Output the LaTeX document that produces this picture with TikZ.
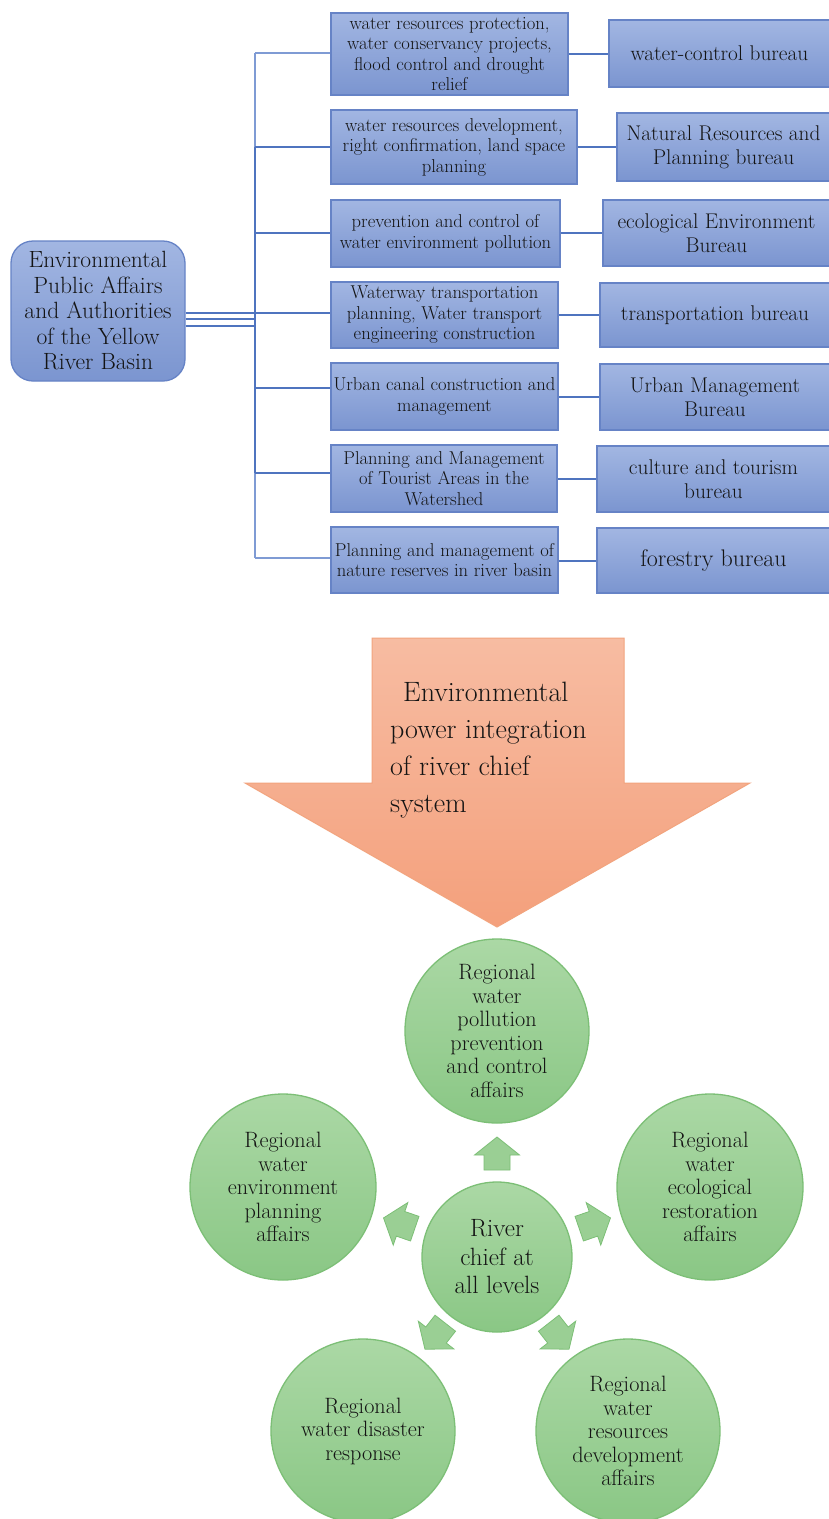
\documentclass[tikz,border=0pt]{standalone}
\usepackage{fontspec}
\usetikzlibrary{calc}
\definecolor{boxtop}{HTML}{A2B6E2}
\definecolor{boxbot}{HTML}{7B95D0}
\definecolor{boxline}{HTML}{6683C6}
\definecolor{conn}{HTML}{4F74BF}
\definecolor{connlt}{HTML}{7F9BD4}
\definecolor{ortop}{HTML}{F7BCA2}
\definecolor{orbot}{HTML}{F4A07C}
\definecolor{orline}{HTML}{F2A47E}
\definecolor{grtop}{HTML}{ABD8A5}
\definecolor{grbot}{HTML}{8AC785}
\definecolor{grline}{HTML}{7CBF76}
\definecolor{grarrow}{HTML}{9ACF94}
\definecolor{txt}{HTML}{141414}
\newcommand{\heavy}{\addfontfeatures{FakeBold=1.2}}
\tikzset{
  bluebox/.style={draw=boxline, line width=1.3pt, top color=boxtop, bottom color=boxbot,
    inner sep=0pt, align=center, text=txt},
  midbox/.style={bluebox, font=\heavy\fontsize{18.6}{20.5}\selectfont},
  rightbox/.style={bluebox, font=\heavy\fontsize{21.3}{24}\selectfont},
  leftbox/.style={bluebox, rounded corners=22pt, font=\heavy\fontsize{23.5}{25.5}\selectfont},
  link/.style={draw=conn, line width=2pt},
  linklt/.style={draw=connlt, line width=2pt},
  gcircle/.style={circle, draw=grline, line width=1.3pt, top color=grtop, bottom color=grbot,
    inner sep=0pt, align=center, text=txt, font=\heavy\fontsize{22.2}{23.5}\selectfont},
  sarrow/.pic={\path[draw=grline, line width=0.8pt, fill=grarrow, line join=miter]
    (-16,-13) -- (-1,-13) -- (-1,-22.5) -- (17,0) -- (-1,22.5) -- (-1,13) -- (-16,13) -- cycle;},
}
\begin{document}
\begin{tikzpicture}[x=1pt,y=1pt]
\useasboundingbox (0,0) rectangle (828,-1519);
\fill[white] (0,0) rectangle (828,-1519);

% ---------- left node ----------
\node[leftbox, minimum width=174pt, minimum height=140pt] (L) at (98,-311)
  {Environmental\\Public Affairs\\and Authorities\\of the Yellow\\River Basin};

% ---------- middle boxes ----------
\node[midbox, minimum width=237pt, minimum height=82pt] (m1) at (449.5,-54)
  {water resources protection,\\water conservancy projects,\\flood control and drought\\relief};
\node[midbox, minimum width=246pt, minimum height=74pt] (m2) at (454,-147)
  {water resources development,\\right confirmation, land space\\planning};
\node[midbox, minimum width=229pt, minimum height=67pt] (m3) at (445.5,-233.5)
  {prevention and control of\\water environment pollution};
\node[midbox, minimum width=227pt, minimum height=66pt] (m4) at (444.5,-315)
  {Waterway transportation\\planning, Water transport\\engineering construction};
\node[midbox, minimum width=227pt, minimum height=67pt] (m5) at (444.5,-396.5)
  {Urban canal construction and\\management};
\node[midbox, minimum width=226pt, minimum height=67pt] (m6) at (444,-478.5)
  {Planning and Management\\of Tourist Areas in the\\Watershed};
\node[midbox, minimum width=227pt, minimum height=66pt] (m7) at (444.5,-560)
  {Planning and management of\\nature reserves in river basin};

% ---------- right boxes ----------
\node[rightbox, minimum width=221pt, minimum height=67pt] (r1) at (719.5,-53.5)
  {water-control bureau};
\node[rightbox, minimum width=213pt, minimum height=68pt] (r2) at (723.5,-147)
  {Natural Resources and\\Planning bureau};
\node[rightbox, minimum width=227pt, minimum height=66pt] (r3) at (716.5,-233)
  {ecological Environment\\Bureau};
\node[rightbox, minimum width=230pt, minimum height=64pt] (r4) at (715,-315)
  {transportation bureau};
\node[rightbox, minimum width=230pt, minimum height=66pt] (r5) at (715,-397)
  {Urban Management\\Bureau};
\node[rightbox, minimum width=233pt, minimum height=66pt] (r6) at (713.5,-479)
  {culture and tourism\\bureau};
\node[rightbox, minimum width=233pt, minimum height=65pt, font=\heavy\fontsize{24}{26}\selectfont] (r7) at (713.5,-560.5)
  {forestry bureau};

% ---------- connectors ----------
\coordinate (t1) at (255,-53);
\coordinate (t2) at (255,-147);
\coordinate (t3) at (255,-233);
\coordinate (t4) at (255,-313);
\coordinate (t5) at (255,-388);
\coordinate (t6) at (255,-473);
\coordinate (t7) at (255,-558);
\coordinate (j1) at (255,-312.5);
\coordinate (j2) at (255,-319);
\coordinate (j3) at (255,-325.5);

\path[linklt] (t1) -- (t2);
\path[link] (t2) -- (t6);
\path[linklt] (t6) -- (t7);
\path[link] (j1 -| L.east) -- (j1);
\path[link] (j2 -| L.east) -- (j2);
\path[link] (j3 -| L.east) -- (j3);
\path[linklt] (t1) -- (t1 -| m1.west);
\path[link] (t2) -- (t2 -| m2.west);
\path[link] (t3) -- (t3 -| m3.west);
\path[link] (t4) -- (t4 -| m4.west);
\path[link] (t5) -- (t5 -| m5.west);
\path[link] (t6) -- (t6 -| m6.west);
\path[linklt] (t7) -- (t7 -| m7.west);

\path[link] (m1.east |- r1.west) -- (r1.west);
\path[link] (m2.east |- r2.west) -- (r2.west);
\path[link] (m3.east |- r3.west) -- (r3.west);
\path[link] (m4.east |- r4.west) -- (r4.west);
\path[link] (m5.east |- r5.west) -- (r5.west);
\path[link] (m6.east |- r6.west) -- (r6.west);
\path[link] (m7.east |- r7.west) -- (r7.west);

% ---------- big orange arrow ----------
\path[draw=orline, line width=1pt, top color=ortop, bottom color=orbot, line join=miter]
  (372,-638) -- (624,-638) -- (624,-783) -- (750,-783) -- (497,-927)
  -- (245,-783) -- (372,-783) -- cycle;
\node[anchor=north west, inner sep=0pt, align=left, text=txt,
      font=\heavy\fontsize{28}{37}\selectfont] (A) at (390,-682)
  {\hspace{13pt}Environmental\\power integration\\of river chief\\system};

% ---------- green circles ----------
\node[gcircle, minimum size=184pt] (c1) at (497,-1031)
  {Regional\\water\\pollution\\prevention\\and control\\affairs};
\node[gcircle, minimum size=186pt] (c2) at (283,-1187)
  {Regional\\water\\environment\\planning\\affairs};
\node[gcircle, minimum size=186pt] (c3) at (710,-1187)
  {Regional\\water\\ecological\\restoration\\affairs};
\node[gcircle, minimum size=184pt] (c4) at (363,-1431)
  {Regional\\water disaster\\response};
\node[gcircle, minimum size=184pt] (c5) at (628,-1431)
  {Regional\\water\\resources\\development\\affairs};
\node[gcircle, minimum size=150pt, font=\heavy\fontsize{25}{28.5}\selectfont] (cc) at (497,-1257)
  {River\\chief at\\all levels};

\path (cc) ++(90:103) pic[rotate=90] {sarrow};
\path (cc) ++(161:103) pic[rotate=161] {sarrow};
\path (cc) ++(19:103) pic[rotate=19] {sarrow};
\path (cc) ++(232:100) pic[rotate=232] {sarrow};
\path (cc) ++(308:100) pic[rotate=308] {sarrow};
\end{tikzpicture}
\end{document}
